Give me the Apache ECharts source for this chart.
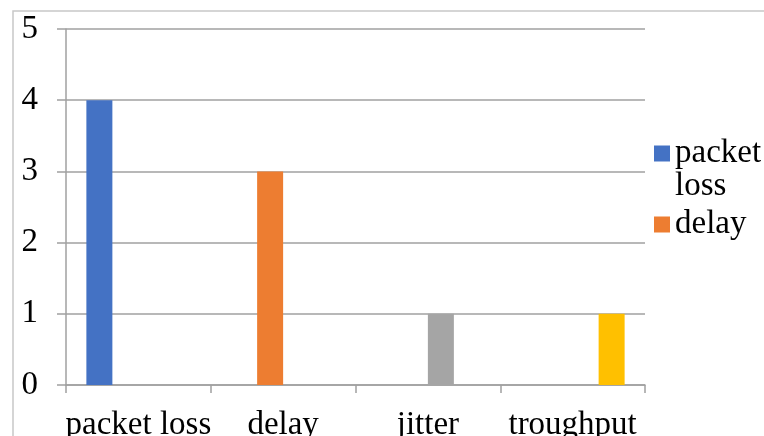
<!DOCTYPE html>
<html><head><meta charset="utf-8">
<script src="https://cdn.jsdelivr.net/npm/echarts@6/dist/echarts.min.js"></script>
<style>html,body{margin:0;padding:0;background:#fff}#c{width:764px;height:436px}</style>
</head><body><div id="c"></div>
<script>
const categories = ['packet loss', 'delay', 'jitter', 'troughput'];
const seriesNames = ['packet loss', 'delay', 'jitter', 'troughput'];
const packetLoss = [4, 0, 0, 0];
const delay = [0, 3, 0, 0];
const jitter = [0, 0, 1, 0];
const troughput = [0, 0, 0, 1];
const legendShown = ['packet loss', 'delay'];
const yTicks = [0, 1, 2, 3, 4, 5];
const colors = ['#4472c4', '#ed7d31', '#a5a5a5', '#ffc000'];

const font = 'Liberation Serif, Times New Roman, serif';
const chart = echarts.init(document.getElementById('c'), null, {renderer: 'canvas'});
const values = [packetLoss, delay, jitter, troughput];
chart.setOption({
  animation: false,
  color: colors,
  graphic: [{
    type: 'rect', shape: {x: 13, y: 11, width: 800, height: 500},
    style: {fill: 'none', stroke: '#c8c8c8', lineWidth: 1.5}, silent: true, z: -1
  }],
  grid: {left: 66, right: 119, top: 29, bottom: 51, containLabel: false, outerBoundsMode: 'none'},
  legend: {
    data: legendShown, orient: 'vertical', left: 649, top: 99,
    itemWidth: 16, itemHeight: 16, itemGap: 5, icon: 'rect',
    formatter: function (name) { return name.indexOf(' ') >= 0 ? '\n' + name : name; },
    textStyle: {fontFamily: font, fontSize: 33, color: '#000', lineHeight: 33,
      width: 95, overflow: 'break'}
  },
  xAxis: {
    type: 'category', data: categories,
    axisLine: {lineStyle: {color: '#a0a0a0', width: 1.5}},
    axisTick: {show: true, length: 8, alignWithLabel: false, lineStyle: {color: '#a0a0a0', width: 1.5}},
    axisLabel: {fontFamily: font, fontSize: 33, color: '#000', margin: 24, interval: 0}
  },
  yAxis: {
    type: 'value', min: yTicks[0], max: yTicks[yTicks.length - 1], interval: 1,
    axisLine: {show: true, lineStyle: {color: '#a0a0a0', width: 1.5}},
    axisTick: {show: true, length: 9, lineStyle: {color: '#a0a0a0', width: 1.5}},
    splitLine: {lineStyle: {color: '#a0a0a0', width: 1.5}},
    axisLabel: {fontFamily: font, fontSize: 33, color: '#000', margin: 28}
  },
  series: seriesNames.map((n, i) => ({
    name: n, type: 'bar', data: values[i], barWidth: 26, barGap: '0%',
    itemStyle: {color: colors[i]}
  }))
});
</script></body></html>
